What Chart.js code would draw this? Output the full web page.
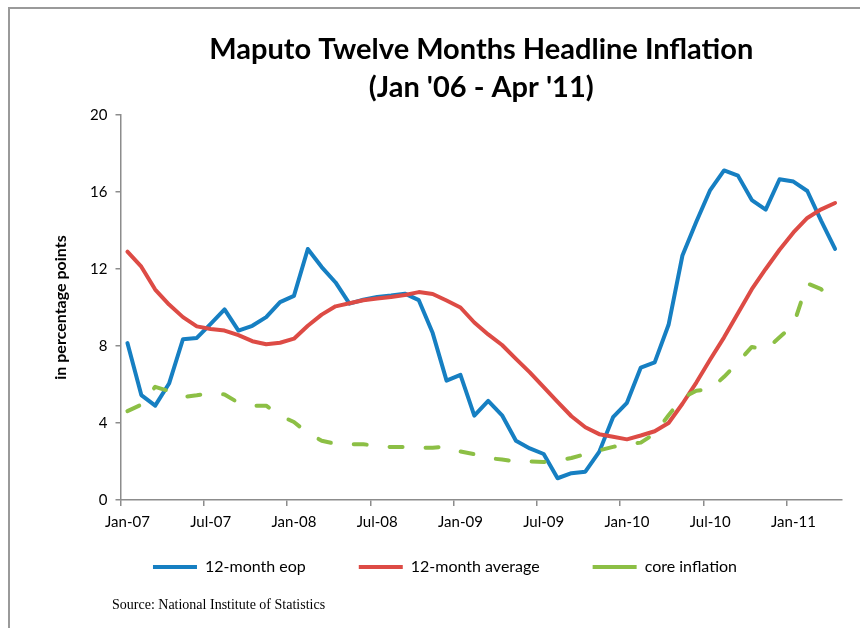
<!DOCTYPE html>
<html>
<head>
<meta charset="utf-8">
<title>Maputo Twelve Months Headline Inflation</title>
<script src="https://cdn.jsdelivr.net/npm/chart.js@4.4.1/dist/chart.umd.min.js"></script>
<style>
  html, body { margin: 0; padding: 0; background: #fff; }
  #wrap { position: relative; width: 860px; height: 628px; overflow: hidden; }
  #frame { position: absolute; left: 8px; top: 7px; width: 900px; height: 700px;
           border-top: 2px solid #9a9a9a; border-left: 2px solid #9a9a9a; }
  #infl { position: absolute; left: 0; top: 0; }
  #source { position: absolute; left: 112px; top: 597px; font: 14px "Liberation Serif", serif; color: #000; }
</style>
</head>
<body>
<div id="wrap">
  <div id="frame"></div>
  <canvas id="infl" width="860" height="628"></canvas>
  <div id="source">Source: National Institute of Statistics</div>
</div>
<script>
const months = [
  "Jan-07","Feb-07","Mar-07","Apr-07","May-07","Jun-07","Jul-07","Aug-07","Sep-07","Oct-07","Nov-07","Dec-07",
  "Jan-08","Feb-08","Mar-08","Apr-08","May-08","Jun-08","Jul-08","Aug-08","Sep-08","Oct-08","Nov-08","Dec-08",
  "Jan-09","Feb-09","Mar-09","Apr-09","May-09","Jun-09","Jul-09","Aug-09","Sep-09","Oct-09","Nov-09","Dec-09",
  "Jan-10","Feb-10","Mar-10","Apr-10","May-10","Jun-10","Jul-10","Aug-10","Sep-10","Oct-10","Nov-10","Dec-10",
  "Jan-11","Feb-11","Mar-11","Apr-11"
];
// 12-month end of period
const eop = [8.15, 5.45, 4.9, 6.05, 8.35, 8.42, 9.15, 9.9, 8.8, 9.05,
  9.5, 10.28, 10.6, 13.04, 12.1, 11.3, 10.2, 10.4, 10.55, 10.62,
  10.72, 10.38, 8.67, 6.2, 6.5, 4.38, 5.15, 4.4, 3.08, 2.68,
  2.39, 1.13, 1.39, 1.47, 2.5, 4.3, 5.05, 6.88, 7.15, 9.1,
  12.7, 14.45, 16.1, 17.12, 16.85, 15.58, 15.08, 16.66, 16.54, 16.05,
  14.5, 13.04];
// 12-month average
const average = [12.9, 12.12, 10.93, 10.15, 9.5, 9.02, 8.88, 8.8, 8.56, 8.25,
  8.09, 8.17, 8.38, 9.05, 9.63, 10.06, 10.22, 10.38, 10.47, 10.55,
  10.65, 10.8, 10.7, 10.36, 10.0, 9.22, 8.6, 8.05, 7.33, 6.63,
  5.86, 5.1, 4.35, 3.78, 3.42, 3.29, 3.15, 3.35, 3.57, 4.0,
  5.0, 6.1, 7.3, 8.45, 9.7, 10.95, 12.0, 13.0, 13.9, 14.65,
  15.1, 15.43];
// core inflation
const core = [4.62, 4.95, 5.88, 5.66, 5.35, 5.44, 5.55, 5.48, 5.05, 4.9,
  4.9, 4.38, 4.05, 3.48, 3.08, 2.92, 2.9, 2.9, 2.8, 2.75,
  2.75, 2.72, 2.72, 2.78, 2.52, 2.38, 2.18, 2.1, 2.0, 2.0,
  1.97, 2.05, 2.18, 2.38, 2.58, 2.76, 2.9, 2.98, 3.45, 4.4,
  5.3, 5.68, 5.75, 6.4, 7.15, 7.95, 7.8, 8.45, 9.1, 11.25,
  10.95, 10.3];
const yTicks = [0, 4, 8, 12, 16, 20];
const labelEvery = 6;

const axisGray = "#8c8c8c";
const colBlue = "#167fc2";
const colRed = "#dd4b45";
const colGreen = "#8cbf45";

Chart.defaults.font.family = "Lato";
Chart.defaults.color = "#000";

// legend row sits closer to the axis labels than its item spacing would allow
const legendTop = 506;
const liftLegend = {
  id: "liftLegend",
  afterLayout(chart) {
    let lg = chart.legend;
    let h = lg.bottom - lg.top;
    lg.top = legendTop;
    lg.bottom = legendTop + h;
  },
};

function makeChart() {
  let canvas = document.getElementById("infl");
  new Chart(canvas, {
    type: "line",
    plugins: [liftLegend],
    data: {
      labels: months,
      datasets: [
        {
          label: "12-month eop",
          data: eop,
          borderColor: colBlue,
          backgroundColor: colBlue,
          borderWidth: 4,
          borderCapStyle: "round",
          borderJoinStyle: "round",
          pointRadius: 0,
          tension: 0,
          order: 3,
        },
        {
          label: "12-month average",
          data: average,
          borderColor: colRed,
          backgroundColor: colRed,
          borderWidth: 4,
          borderCapStyle: "round",
          borderJoinStyle: "round",
          pointRadius: 0,
          tension: 0,
          order: 2,
        },
        {
          label: "core inflation",
          data: core,
          borderColor: colGreen,
          backgroundColor: colGreen,
          borderWidth: 4,
          borderDash: [13, 23],
          borderCapStyle: "round",
          borderJoinStyle: "round",
          pointRadius: 0,
          tension: 0,
          order: 1,
        },
      ],
    },
    options: {
      responsive: false,
      animation: false,
      devicePixelRatio: 1,
      layout: { padding: { left: 48, right: 18, top: 0, bottom: 11 } },
      plugins: {
        tooltip: { enabled: false },
        title: {
          display: true,
          fullSize: false,
          text: ["Maputo Twelve Months Headline Inflation", "(Jan '06 - Apr '11)"],
          color: "#000",
          font: { family: "Lato", size: 29, weight: "bold", lineHeight: 1.31 },
          padding: { top: 31, bottom: 8 },
        },
        legend: {
          position: "bottom",
          labels: {
            usePointStyle: true,
            pointStyle: "line",
            pointStyleWidth: 44,
            padding: 53,
            color: "#000",
            font: { family: "Lato", size: 16 },
            sort: (a, b) => a.datasetIndex - b.datasetIndex,
          },
        },
      },
      scales: {
        x: {
          offset: true,
          afterFit: (s) => { s.height = 38; },
          border: { color: axisGray, width: 1.5 },
          grid: {
            offset: true,
            drawOnChartArea: false,
            tickLength: 6,
            lineWidth: 1.5,
            color: (ctx) => (ctx.index % labelEvery === 0 ? axisGray : "rgba(0,0,0,0)"),
          },
          ticks: {
            autoSkip: false,
            maxRotation: 0,
            minRotation: 0,
            padding: 7,
            font: { family: "Lato", size: 15 },
            callback: function (val, i) {
              return i % labelEvery === 0 ? this.getLabelForValue(val) : "";
            },
          },
        },
        y: {
          min: 0,
          max: 20,
          afterFit: (s) => { s.width = 72.5; },
          afterBuildTicks: (s) => { s.ticks = yTicks.map((v) => ({ value: v })); },
          border: { color: axisGray, width: 1.5 },
          grid: {
            drawOnChartArea: false,
            tickLength: 5,
            lineWidth: 1.5,
            color: axisGray,
          },
          ticks: {
            padding: 8,
            font: { family: "Lato", size: 15 },
          },
          title: {
            display: true,
            text: "in percentage points",
            color: "#000",
            font: { family: "Lato", size: 16, weight: "bold" },
            padding: { top: 3, bottom: 0 },
          },
        },
      },
    },
  });
}
makeChart();
</script>
</body>
</html>
